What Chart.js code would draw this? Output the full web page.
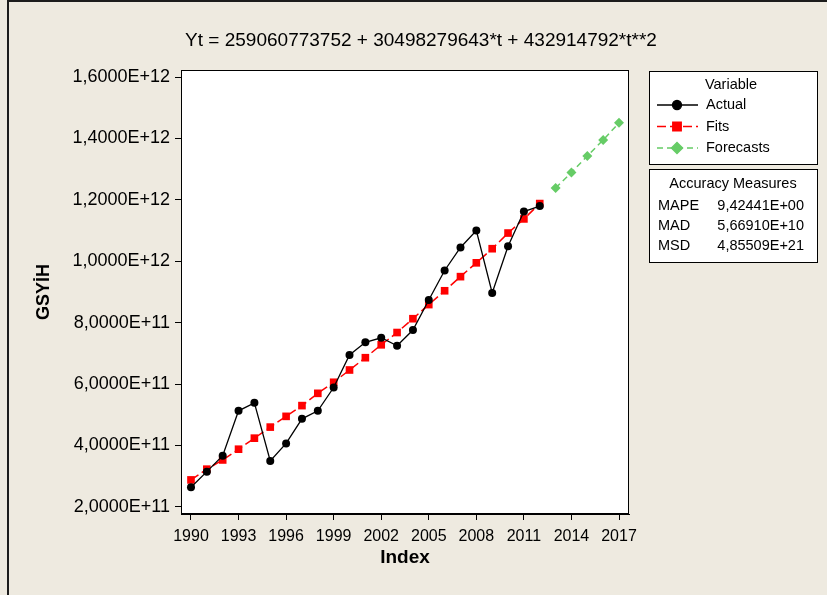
<!DOCTYPE html>
<html>
<head>
<meta charset="utf-8">
<script src="https://cdn.jsdelivr.net/npm/chart.js@4.4.0/dist/chart.umd.min.js"></script>
<style>
    html, body { margin: 0; padding: 0; background: #EEEAE0; }
    canvas { display: block; }
</style>
</head>
<body>
<canvas id="trendChart" width="827" height="595"></canvas>
<script>
// Trend analysis data
const titleText = 'Yt = 259060773752 + 30498279643*t + 432914792*t**2';
const fitYears = [1990, 1991, 1992, 1993, 1994, 1995, 1996, 1997, 1998, 1999, 2000, 2001,
                  2002, 2003, 2004, 2005, 2006, 2007, 2008, 2009, 2010, 2011, 2012];
const actualValues = [2.64e11, 3.15e11, 3.67e11, 5.13e11, 5.39e11, 3.50e11, 4.07e11, 4.87e11,
                      5.13e11, 5.89e11, 6.95e11, 7.36e11, 7.51e11, 7.25e11, 7.76e11, 8.74e11,
                      9.70e11, 10.45e11, 11.00e11, 8.97e11, 10.49e11, 11.62e11, 11.80e11];
const fitValues = [2.88e11, 3.23e11, 3.53e11, 3.88e11, 4.24e11, 4.60e11, 4.95e11, 5.30e11,
                   5.70e11, 6.06e11, 6.46e11, 6.86e11, 7.28e11, 7.68e11, 8.13e11, 8.59e11,
                   9.04e11, 9.50e11, 9.95e11, 10.41e11, 10.92e11, 11.38e11, 11.88e11];
const forecastYears = [2013, 2014, 2015, 2016, 2017];
const forecastValues = [12.39e11, 12.89e11, 13.43e11, 13.95e11, 14.51e11];
const xTickYears = [1990, 1993, 1996, 1999, 2002, 2005, 2008, 2011, 2014, 2017];
const yTickValues = [2e11, 4e11, 6e11, 8e11, 10e11, 12e11, 14e11, 16e11];
const measureNames = ['MAPE', 'MAD', 'MSD'];
const measureValues = ['9,42441E+00', '5,66910E+10', '4,85509E+21'];

const FONT = "'Liberation Sans', Arial, sans-serif";
Chart.defaults.font.family = FONT;
Chart.defaults.color = '#000';

const toPoints = (xs, ys) => xs.map((x, i) => ({ x: x, y: ys[i] }));

// background, plot frame, title and the two Minitab style boxes
const minitabPlugin = {
    id: 'minitab',
    beforeDraw: (chart) => {
        const { ctx, chartArea: a } = chart;
        ctx.save();
        ctx.fillStyle = '#EEEAE0';
        ctx.fillRect(0, 0, chart.width, chart.height);
        ctx.fillStyle = '#FFFFFF';
        ctx.fillRect(a.left, a.top, a.right - a.left, a.bottom - a.top);
        ctx.restore();
    },
    afterDraw: (chart) => {
        const { ctx, chartArea: a } = chart;
        ctx.save();

        // window frame (left and top edges)
        ctx.fillStyle = '#1c1c1c';
        ctx.fillRect(7, 0, 2, chart.height);
        ctx.fillRect(7, 0, chart.width - 7, 2);

        // plot border
        ctx.strokeStyle = '#000';
        ctx.lineWidth = 1;
        ctx.strokeRect(a.left + 0.5, a.top + 0.5, a.right - a.left - 1, a.bottom - a.top - 1);

        // title
        ctx.fillStyle = '#000';
        ctx.font = '19px ' + FONT;
        ctx.textAlign = 'center';
        ctx.textBaseline = 'middle';
        ctx.fillText(titleText, 421, 41);

        // legend box
        ctx.fillStyle = '#FFFFFF';
        ctx.fillRect(649.5, 71.5, 168, 93);
        ctx.fillRect(649.5, 169.5, 168, 93);
        ctx.strokeStyle = '#000';
        ctx.strokeRect(649.5, 71.5, 168, 93);
        ctx.strokeRect(649.5, 169.5, 168, 93);

        ctx.font = '14.5px ' + FONT;
        ctx.fillStyle = '#000';
        ctx.textAlign = 'center';
        ctx.fillText('Variable', 731, 85);

        chart.data.datasets.forEach((ds, i) => {
            const y = 105 + i * 21.5;
            ctx.save();
            ctx.strokeStyle = ds.borderColor;
            ctx.lineWidth = ds.borderWidth;
            ctx.setLineDash(ds.borderDash || []);
            ctx.beginPath();
            ctx.moveTo(657, y);
            ctx.lineTo(698, y);
            ctx.stroke();
            ctx.setLineDash([]);
            ctx.fillStyle = ds.pointBackgroundColor;
            ctx.strokeStyle = ds.pointBackgroundColor;
            Chart.helpers.drawPoint(ctx, {
                pointStyle: ds.pointStyle,
                radius: ds.pointRadius + 0.5,
                rotation: 0,
                borderWidth: 1
            }, 677, y);
            ctx.restore();
            ctx.fillStyle = '#000';
            ctx.textAlign = 'left';
            ctx.fillText(ds.label, 706, y);
        });

        ctx.textAlign = 'center';
        ctx.fillText('Accuracy Measures', 733, 184);
        measureNames.forEach((name, i) => {
            const y = 206 + i * 20;
            ctx.textAlign = 'left';
            ctx.fillText(name, 658, y);
            ctx.textAlign = 'right';
            ctx.fillText(measureValues[i], 804, y);
        });

        ctx.restore();
    }
};

new Chart(document.getElementById('trendChart'), {
    type: 'line',
    data: {
        datasets: [{
            label: 'Actual',
            data: toPoints(fitYears, actualValues),
            borderColor: '#000000',
            borderWidth: 1.3,
            pointStyle: 'circle',
            pointRadius: 4,
            pointBackgroundColor: '#000000',
            pointBorderColor: '#000000',
            pointBorderWidth: 0
        }, {
            label: 'Fits',
            data: toPoints(fitYears, fitValues),
            borderColor: '#FF0000',
            borderWidth: 1.5,
            borderDash: [9, 4],
            pointStyle: 'rect',
            pointRadius: 5.4,
            pointBackgroundColor: '#FF0000',
            pointBorderColor: '#FF0000',
            pointBorderWidth: 0
        }, {
            label: 'Forecasts',
            data: toPoints(forecastYears, forecastValues),
            borderColor: '#66CC66',
            borderWidth: 1.5,
            borderDash: [6, 4],
            pointStyle: 'rectRot',
            pointRadius: 5,
            pointBackgroundColor: '#66CC66',
            pointBorderColor: '#66CC66',
            pointBorderWidth: 0
        }]
    },
    options: {
        responsive: false,
        animation: false,
        layout: {
            padding: { left: 0, top: 70, right: 198, bottom: 0 }
        },
        plugins: {
            legend: { display: false },
            tooltip: { enabled: false }
        },
        scales: {
            x: {
                type: 'linear',
                min: 1989.37,
                max: 2017.63,
                afterBuildTicks: (scale) => {
                    scale.ticks = xTickYears.map(v => ({ value: v }));
                },
                afterFit: (scale) => { scale.height = 81; },
                ticks: {
                    callback: (value) => String(value),
                    font: { size: 16 },
                    padding: 7,
                    maxRotation: 0,
                    autoSkip: false
                },
                grid: {
                    drawOnChartArea: false,
                    drawTicks: true,
                    tickLength: 6,
                    color: '#000'
                },
                border: { display: true, color: '#000', width: 1 },
                title: {
                    display: true,
                    text: 'Index',
                    font: { size: 19, weight: 'bold' },
                    padding: { top: 0, bottom: 26 }
                }
            },
            y: {
                type: 'linear',
                min: 1.77e11,
                max: 1.623e12,
                afterBuildTicks: (scale) => {
                    scale.ticks = yTickValues.map(v => ({ value: v }));
                },
                afterFit: (scale) => { scale.width = 181; },
                ticks: {
                    callback: (value) => value.toExponential(4).replace('.', ',').replace('e', 'E'),
                    font: { size: 18 },
                    padding: 5
                },
                grid: {
                    drawOnChartArea: false,
                    drawTicks: true,
                    tickLength: 6,
                    color: '#000'
                },
                border: { display: true, color: '#000', width: 1 },
                title: {
                    display: true,
                    text: 'GSYİH',
                    font: { size: 18, weight: 'bold' },
                    padding: { top: 33, bottom: 0 }
                }
            }
        }
    },
    plugins: [minitabPlugin]
});
</script>
</body>
</html>
